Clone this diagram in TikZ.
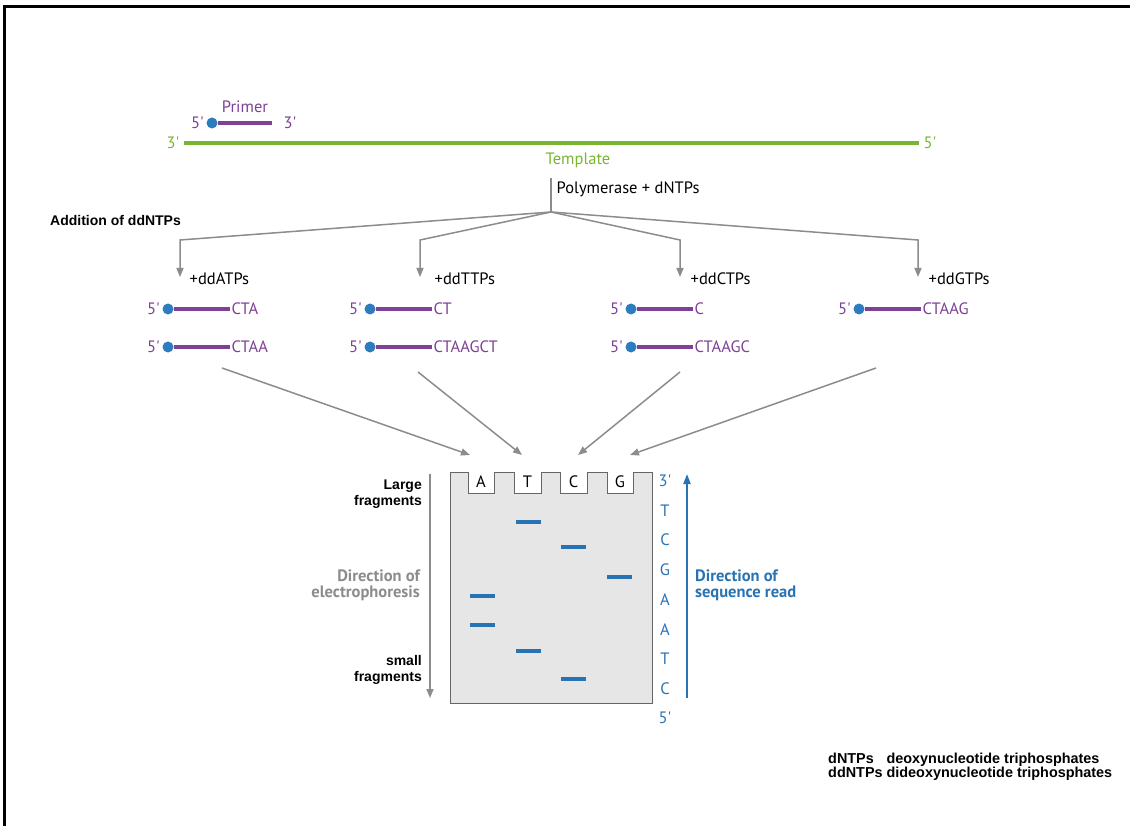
\documentclass[tikz,border=0pt]{standalone}
\usepackage{fontspec}
\setmainfont{PT Sans}
\newfontfamily\arialfont{Liberation Sans}
\usepackage{xcolor}
\usepackage{tikz}
\usetikzlibrary{arrows.meta,positioning}
\definecolor{strandpurple}{RGB}{125,65,150}
\definecolor{dotblue}{RGB}{45,125,190}
\definecolor{tmplgreen}{RGB}{120,182,50}
\definecolor{arrgray}{RGB}{140,140,140}
\definecolor{seqblue}{RGB}{40,115,180}
\definecolor{gelfill}{RGB}{230,230,230}
\newcommand{\fivep}{5\textquotesingle}
\newcommand{\threep}{3\textquotesingle}
\tikzset{
  lbl/.style={font=\fontsize{16.5}{17}\selectfont, inner sep=1.5pt},
  plbl/.style={lbl, text=strandpurple},
  glbl/.style={lbl, text=tmplgreen},
  blbl/.style={lbl, text=seqblue},
  albl/.style={font=\arialfont\bfseries\fontsize{14}{16}\selectfont, inner sep=0pt, align=right},
  dlbl/.style={font=\bfseries\fontsize{16.5}{16}\selectfont, inner sep=0pt},
  dot5/.style={circle, fill=dotblue, inner sep=0pt, minimum size=11pt},
  strand/.style={draw=strandpurple, line width=3.5pt},
  tmpl/.style={draw=tmplgreen, line width=4pt},
  gline/.style={draw=arrgray, line width=1.5pt},
  garr/.style={gline, -{Triangle[length=9pt, width=7pt]}},
  barr/.style={draw=seqblue, line width=2pt, -{Triangle[length=10pt, width=7pt]}},
  band/.style={draw=seqblue, line width=3.5pt},
  gel/.style={fill=gelfill, draw=gray!80!black, line width=1pt}
}
\begin{document}
\begin{tikzpicture}[x=1pt, y=-1pt]
\useasboundingbox (0,0) rectangle (1130,826);
\draw[line width=3pt] (4.5,826) -- (4.5,6.5) -- (1130,6.5);
% primer and template
\node[dot5] (p5) at (212,123) {};
\node[plbl, left=1pt of p5] (p5l) {\fivep};
\coordinate (pend) at (272,123);
\node[plbl, right=10pt of pend] (p3) {\threep};
\node[plbl] (plab) at (245,107) {Primer};
\draw[strand] (p5) -- (pend);
\node[glbl] (t3) at (173,143) {\threep};
\node[glbl] (t5) at (930,143) {\fivep};
\node[glbl] (tlab) at (578,160) {Template};
\draw[tmpl, shorten <=3pt, shorten >=3pt] (t3) -- (t5);
% polymerase fan
\coordinate (poltop) at (551,178); \coordinate (hub) at (551,212);
\node[lbl, anchor=west] (pol) at (555,189) {Polymerase + dNTPs};
\draw[gline] (poltop) -- (hub);
\coordinate (cA) at (180,240); \coordinate (tA) at (180,277);
\coordinate (cT) at (420,240); \coordinate (tT) at (420,277);
\coordinate (cC) at (680,240); \coordinate (tC) at (680,277);
\coordinate (cG) at (918,240); \coordinate (tG) at (918,277);
\draw[garr] (hub) -- (cA) -- (tA); \draw[garr] (hub) -- (cT) -- (tT);
\draw[garr] (hub) -- (cC) -- (tC); \draw[garr] (hub) -- (cG) -- (tG);
\node[albl, anchor=west] (add) at (50,220) {Addition of ddNTPs};
\node[lbl, right=8pt of tA, yshift=-2pt] (ddA) {+ddATPs};
\node[lbl, right=13pt of tT, yshift=-2pt] (ddT) {+ddTTPs};
\node[lbl, right=9pt of tC, yshift=-2pt] (ddC) {+ddCTPs};
\node[lbl, right=9pt of tG, yshift=-2pt] (ddG) {+ddGTPs};
% terminated strands
\node[dot5] (a1) at (168,309) {}; \node[plbl, left=1pt of a1] {\fivep};
\node[plbl, right=62pt of a1.center] (a1s) {CTA}; \draw[strand] (a1) -- (a1s);
\node[dot5] (a2) at (168,347) {}; \node[plbl, left=1pt of a2] {\fivep};
\node[plbl, right=62pt of a2.center] (a2s) {CTAA}; \draw[strand] (a2) -- (a2s);
\node[dot5] (t1) at (370,309) {}; \node[plbl, left=1pt of t1] {\fivep};
\node[plbl, right=62pt of t1.center] (t1s) {CT}; \draw[strand] (t1) -- (t1s);
\node[dot5] (t2) at (370,347) {}; \node[plbl, left=1pt of t2] {\fivep};
\node[plbl, right=62pt of t2.center] (t2s) {CTAAGCT}; \draw[strand] (t2) -- (t2s);
\node[dot5] (c1) at (631,309) {}; \node[plbl, left=1pt of c1] {\fivep};
\node[plbl, right=62pt of c1.center] (c1s) {C}; \draw[strand] (c1) -- (c1s);
\node[dot5] (c2) at (631,347) {}; \node[plbl, left=1pt of c2] {\fivep};
\node[plbl, right=62pt of c2.center] (c2s) {CTAAGC}; \draw[strand] (c2) -- (c2s);
\node[dot5] (g1) at (859,309) {}; \node[plbl, left=1pt of g1] {\fivep};
\node[plbl, right=62pt of g1.center] (g1s) {CTAAG}; \draw[strand] (g1) -- (g1s);
% into the gel
\coordinate (fA) at (222,368); \coordinate (gA) at (470,455);
\coordinate (fT) at (418,372); \coordinate (gT) at (522,455);
\coordinate (fC) at (680,372); \coordinate (gC) at (578,455);
\coordinate (fG) at (876,368); \coordinate (gG) at (630,455);
\draw[garr] (fA) -- (gA); \draw[garr] (fT) -- (gT);
\draw[garr] (fC) -- (gC); \draw[garr] (fG) -- (gG);
% gel
\draw[gel] (450,472) -- (468,472) -- (468,493) -- (494,493) -- (494,472)
  -- (514,472) -- (514,493) -- (541,493) -- (541,472)
  -- (560,472) -- (560,493) -- (587,493) -- (587,472)
  -- (607,472) -- (607,493) -- (633,493) -- (633,472)
  -- (652,472) -- (652,703) -- (450,703) -- cycle;
\node[lbl] (wA) at (481,482) {A}; \node[lbl] (wT) at (527.5,482) {T};
\node[lbl] (wC) at (573.5,482) {C}; \node[lbl] (wG) at (620,482) {G};
\draw[band] (516,522) -- (541,522);
\draw[band] (561,547) -- (586,547);
\draw[band] (607,577) -- (632,577);
\draw[band] (470,596) -- (495,596);
\draw[band] (470,625) -- (495,625);
\draw[band] (516,651) -- (541,651);
\draw[band] (561,679) -- (586,679);
% sequence read
\node[blbl] (s0) at (665,481) {\threep}; \node[blbl] (s1) at (665,511) {T};
\node[blbl] (s2) at (665,540) {C}; \node[blbl] (s3) at (665,570) {G};
\node[blbl] (s4) at (665,600) {A}; \node[blbl] (s5) at (665,630) {A};
\node[blbl] (s6) at (665,659) {T}; \node[blbl] (s7) at (665,689) {C};
\node[blbl] (s8) at (665,718) {\fivep};
\coordinate (rb) at (687,698); \coordinate (rt) at (687,474);
\draw[barr] (rb) -- (rt);
\node[dlbl, text=seqblue, align=left, anchor=west] (rd) at (695,585) {Direction of\\sequence read};
% electrophoresis
\coordinate (et) at (430,474); \coordinate (eb) at (430,698);
\draw[garr] (et) -- (eb);
\node[albl, anchor=east] (lf) at (422,494) {Large\\fragments};
\node[dlbl, text=arrgray, align=right, anchor=east] (ed) at (420,585) {Direction of\\electrophoresis};
\node[albl, anchor=east] (sf) at (422,670) {small\\fragments};
% legend
\node[albl, anchor=west, align=left, font=\arialfont\bfseries\fontsize{14.4}{16}\selectfont] (leg) at (828,767) {\begin{tabular}{@{}l@{\ }l@{}}
dNTPs & deoxynucleotide triphosphates\\[-2pt]
ddNTPs & dideoxynucleotide triphosphates
\end{tabular}};
\end{tikzpicture}
\end{document}
